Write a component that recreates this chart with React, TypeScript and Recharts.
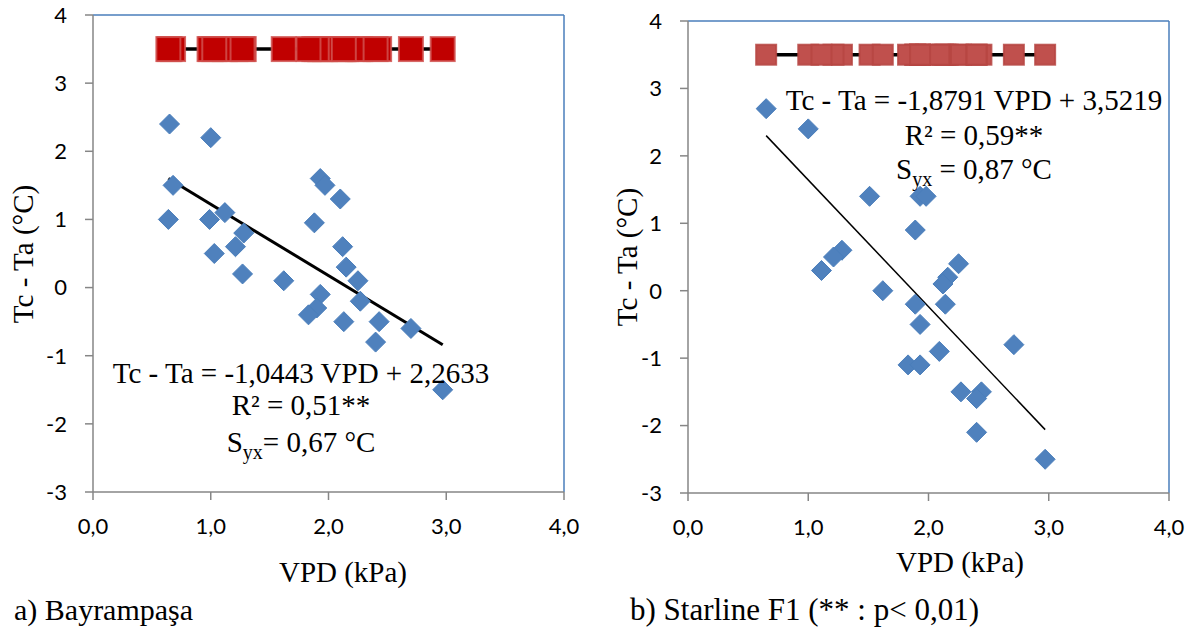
import React from "react";
import { ScatterChart, Scatter, XAxis, YAxis, ReferenceLine } from "recharts";

// a) Bayrampaşa
const bayrampasaVpd = [
  0.65, 1.0, 0.68, 0.64, 0.99, 1.12, 1.28, 1.21, 1.03, 1.93, 1.97, 2.1, 1.88, 2.12,
  1.27, 1.62, 2.15, 2.25, 1.93, 2.27, 1.9, 1.83, 2.13, 2.43, 2.7, 2.4, 2.97,
];
const bayrampasaDiff = [
  2.4, 2.2, 1.5, 1.0, 1.0, 1.1, 0.8, 0.6, 0.5, 1.6, 1.5, 1.3, 0.95, 0.6,
  0.2, 0.1, 0.3, 0.1, -0.1, -0.2, -0.3, -0.4, -0.5, -0.5, -0.6, -0.8, -1.5,
];
const bayrampasaTrend = [
  { x: 0.64, y: 1.6 },
  { x: 2.97, y: -0.84 },
];
const bayrampasaStats = ["Tc - Ta = -1,0443 VPD + 2,2633", "R² = 0,51**", "0,67 °C"];

// b) Starline F1
const starlineVpd = [
  0.65, 1.0, 1.51, 1.93, 1.98, 1.89, 1.28, 1.21, 1.11, 1.62, 2.25, 2.16, 2.12,
  2.14, 1.89, 1.93, 2.09, 1.83, 1.93, 2.71, 2.27, 2.44, 2.4, 2.4, 2.97,
];
const starlineDiff = [
  2.7, 2.4, 1.4, 1.4, 1.4, 0.9, 0.6, 0.5, 0.3, 0.0, 0.4, 0.2, 0.1,
  -0.2, -0.2, -0.5, -0.9, -1.1, -1.1, -0.8, -1.5, -1.5, -1.6, -2.1, -2.5,
];
const starlineTrend = [
  { x: 0.65, y: 2.3 },
  { x: 2.97, y: -2.06 },
];
const starlineStats = ["Tc - Ta = -1,8791 VPD + 3,5219", "R² = 0,59**", "0,87 °C"];

const xTicks = [0, 1, 2, 3, 4];
const yTicks = [-3, -2, -1, 0, 1, 2, 3, 4];
const rangeRowY = 3.5;

const AXIS_GREY = "#868686";
const BORDER_BLUE = "#4A7EBB";
const TICK_FONT = { fontFamily: "Lato, 'Open Sans', sans-serif", fontSize: 22, fill: "#000" };

const fmtX = (v: number) => v.toFixed(1).replace(".", ",");

const Diamond = (props: any) => {
  const { cx, cy } = props;
  const r = 10;
  return (
    <polygon
      points={`${cx},${cy - r} ${cx + r},${cy} ${cx},${cy + r} ${cx - r},${cy}`}
      fill="#4F81BD"
      stroke="#4A7EBB"
      strokeWidth={1}
    />
  );
};

const makeSquare = (size: number, fill: string, stroke: string) => (props: any) => {
  const { cx, cy } = props;
  return (
    <rect
      x={cx - size / 2}
      y={cy - size / 2}
      width={size}
      height={size}
      fill={fill}
      stroke={stroke}
      strokeWidth={2}
      strokeOpacity={0.85}
    />
  );
};

interface PanelProps {
  left: number;
  plotTop: number;
  plotBottom: number;
  plotLeft: number;
  plotRight: number;
  vpd: number[];
  diff: number[];
  trend: { x: number; y: number }[];
  trendWidth: number;
  squareSize: number;
  squareFill: string;
  squareStroke: string;
}

const W = 600;
const H = 560;

const Panel: React.FC<PanelProps> = (p) => {
  const points = p.vpd.map((x, i) => ({ x, y: p.diff[i] }));
  const row = p.vpd.map((x) => ({ x, y: rangeRowY }));
  const rowLine = [
    { x: Math.min(...p.vpd), y: rangeRowY },
    { x: Math.max(...p.vpd), y: rangeRowY },
  ];
  return (
    <div style={{ position: "absolute", left: p.left, top: 0 }}>
      <ScatterChart
        width={W}
        height={H}
        margin={{ top: p.plotTop, right: p.left + W - p.plotRight, left: 0, bottom: 0 }}
      >
        <XAxis
          type="number"
          dataKey="x"
          domain={[0, 4]}
          ticks={xTicks}
          interval={0}
          tickFormatter={fmtX}
          height={H - p.plotBottom}
          tickSize={8}
          tickMargin={18}
          axisLine={{ stroke: AXIS_GREY, strokeWidth: 1.5 }}
          tickLine={{ stroke: AXIS_GREY, strokeWidth: 1.5 }}
          tick={TICK_FONT}
        />
        <YAxis
          type="number"
          dataKey="y"
          domain={[-3, 4]}
          ticks={yTicks}
          interval={0}
          width={p.plotLeft - p.left}
          tickSize={8}
          tickMargin={18}
          axisLine={{ stroke: AXIS_GREY, strokeWidth: 1.5 }}
          tickLine={{ stroke: AXIS_GREY, strokeWidth: 1.5 }}
          tick={TICK_FONT}
        />
        <ReferenceLine y={4} stroke={BORDER_BLUE} strokeWidth={1.5} />
        <ReferenceLine x={4} stroke={BORDER_BLUE} strokeWidth={1.5} />
        <Scatter
          data={row}
          isAnimationActive={false}
          shape={makeSquare(p.squareSize, p.squareFill, p.squareStroke)}
        />
        <ReferenceLine segment={rowLine} stroke="#000" strokeWidth={3.5} />
        <Scatter data={points} isAnimationActive={false} shape={Diamond} />
        <ReferenceLine segment={p.trend} stroke="#000" strokeWidth={p.trendWidth} />
      </ScatterChart>
    </div>
  );
};

const Stats: React.FC<{ cx: number; y: number[]; lines: string[]; gap?: string }> = ({
  cx,
  y,
  lines,
  gap = "",
}) => (
  <g textAnchor="middle" fontSize={29}>
    <text x={cx} y={y[0]}>{lines[0]}</text>
    <text x={cx} y={y[1]}>{lines[1]}</text>
    <text x={cx} y={y[2]}>
      S
      <tspan fontSize={20} dy={7}>yx</tspan>
      <tspan dy={-7}>{`${gap}= ${lines[2]}`}</tspan>
    </text>
  </g>
);

export default function App() {
  return (
    <div
      style={{
        position: "absolute",
        left: 0,
        top: 0,
        width: 1196,
        height: 632,
        background: "#fff",
        overflow: "hidden",
      }}
    >
      <Panel
        left={0}
        plotLeft={93}
        plotRight={564}
        plotTop={15}
        plotBottom={492}
        vpd={bayrampasaVpd}
        diff={bayrampasaDiff}
        trend={bayrampasaTrend}
        trendWidth={3}
        squareSize={24}
        squareFill="#C00000"
        squareStroke="#D0504D"
      />
      <Panel
        left={595}
        plotLeft={688}
        plotRight={1169}
        plotTop={21}
        plotBottom={493}
        vpd={starlineVpd}
        diff={starlineDiff}
        trend={starlineTrend}
        trendWidth={1.5}
        squareSize={20}
        squareFill="#C0504D"
        squareStroke="#B64542"
      />
      <svg
        width={1196}
        height={632}
        style={{ position: "absolute", left: 0, top: 0, pointerEvents: "none" }}
        fontFamily="'Liberation Serif', 'Times New Roman', serif"
        fill="#000"
      >
        <text x={33} y={254} fontSize={29} textAnchor="middle" transform="rotate(-90, 33, 254)">
          Tc - Ta (°C)
        </text>
        <text x={637} y={257} fontSize={29} textAnchor="middle" transform="rotate(-90, 637, 257)">
          Tc - Ta (°C)
        </text>
        <text x={343} y={582} fontSize={29} textAnchor="middle">VPD (kPa)</text>
        <text x={960} y={572} fontSize={29} textAnchor="middle">VPD (kPa)</text>
        <Stats cx={301} y={[383, 415, 452]} lines={bayrampasaStats} />
        <Stats cx={974} y={[110, 145, 179]} lines={starlineStats} gap=" " />
        <text x={14} y={620} fontSize={30}>a) Bayrampaşa</text>
        <text x={630} y={620} fontSize={31}>b) Starline F1 (** : p&lt; 0,01)</text>
      </svg>
    </div>
  );
}
